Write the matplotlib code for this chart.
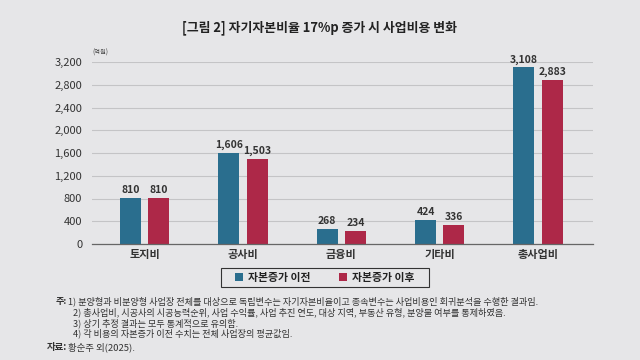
import numpy as np
import matplotlib
matplotlib.use("Agg")
import matplotlib.pyplot as plt
from matplotlib.patches import Patch, Rectangle

plt.rcParams['font.family'] = ['Noto Sans CJK KR', 'DejaVu Sans']

categories = ['토지비', '공사비', '금융비', '기타비', '총사업비']
before = [810, 1606, 268, 424, 3108]
after = [810, 1503, 234, 336, 2883]
series_names = ['자본증가 이전', '자본증가 이후']
yticks = [0, 400, 800, 1200, 1600, 2000, 2400, 2800, 3200]

title = '[그림 2] 자기자본비율 17%p 증가 시 사업비용 변화'
notes = [
    '1) 분양형과 비분양형 사업장 전체를 대상으로 독립변수는 자기자본비율이고 종속변수는 사업비용인 회귀분석을 수행한 결과임.',
    '2) 총사업비, 시공사의 시공능력순위, 사업 수익률, 사업 추진 연도, 대상 지역, 부동산 유형, 분양불 여부를 통제하였음.',
    '3) 상기 추정 결과는 모두 통계적으로 유의함.',
    '4) 각 비용의 자본증가 이전 수치는 전체 사업장의 평균값임.',
]
source = '황순주 외(2025).'

bg = '#e6e6e8'
c_blue = '#2a6e8e'
c_red = '#ad2848'
txt = '#333333'

fig = plt.figure(figsize=(6.4, 3.6), dpi=100, facecolor=bg)
ax = fig.add_axes([92 / 640, 1 - 244 / 360, 501 / 640, 182 / 360], facecolor=bg)

x = np.arange(len(categories))
w = 0.213
off = 0.145
b1 = ax.bar(x - off, before, w, color=c_blue, zorder=3)
b2 = ax.bar(x + off, after, w, color=c_red, zorder=3)

for bars, vals in ((b1, before), (b2, after)):
    for r, v in zip(bars, vals):
        ax.text(r.get_x() + r.get_width() / 2, v + 45, f'{v:,}', ha='center', va='bottom',
                fontsize=7.5, fontweight='bold', color=txt, clip_on=False)

ax.set_xlim(-0.534, 4.558)
ax.set_ylim(0, 3200)
ax.set_yticks(yticks)
ax.set_yticklabels([f'{t:,}' for t in yticks], fontsize=8, color=txt)
ax.set_xticks(x)
ax.set_xticklabels(categories, fontsize=8, fontweight='bold', color=txt)
ax.tick_params(length=0, axis='y', pad=7)
ax.tick_params(length=0, axis='x', pad=3)
ax.grid(axis='y', color='#c4c4c6', linewidth=0.8, zorder=0)
for s in ('top', 'right', 'left'):
    ax.spines[s].set_visible(False)
ax.spines['bottom'].set_color('#666666')
ax.spines['bottom'].set_linewidth(0.9)
ax.spines['bottom'].set_zorder(4)

fig.text(0.5, 0.922, title, ha='center', va='center', fontsize=9.3, fontweight='bold', color='#222222')
fig.text(92 / 640, 1 - 53 / 360, '(억원)', ha='left', va='center', fontsize=4.5, color='#444444')

# legend box drawn separately so the padding can match
fig.patches.append(Rectangle((221 / 640, 1 - 287 / 360), 208 / 640, 19 / 360,
                             transform=fig.transFigure, facecolor=bg, edgecolor='#333333',
                             linewidth=0.8, zorder=1))
handles = [Patch(facecolor=c_blue), Patch(facecolor=c_red)]
leg = fig.legend(handles, series_names, loc='center', bbox_to_anchor=(325 / 640, 1 - 277.5 / 360), ncol=2,
                 frameon=False, fontsize=7.8, handlelength=0.7, handleheight=0.7,
                 columnspacing=2.6, handletextpad=0.5, borderpad=0, borderaxespad=0)
for t in leg.get_texts():
    t.set_fontweight('bold')
    t.set_color('#222222')

note_y = [304, 315, 326, 336]
fs = 6.6
fig.text(56 / 640, 1 - note_y[0] / 360, '주:', ha='left', va='baseline', fontsize=fs,
         fontweight='bold', color=txt)
fig.text(68 / 640, 1 - note_y[0] / 360, notes[0], ha='left', va='baseline', fontsize=fs, color=txt)
for y, n in zip(note_y[1:], notes[1:]):
    fig.text(73 / 640, 1 - y / 360, n, ha='left', va='baseline', fontsize=fs, color=txt)
fig.text(47 / 640, 1 - 350 / 360, '자료:', ha='left', va='baseline', fontsize=6.8,
         fontweight='bold', color=txt)
fig.text(68 / 640, 1 - 350 / 360, source, ha='left', va='baseline', fontsize=6.8, color=txt)

fig.savefig('out.png', dpi=100, facecolor=bg)
